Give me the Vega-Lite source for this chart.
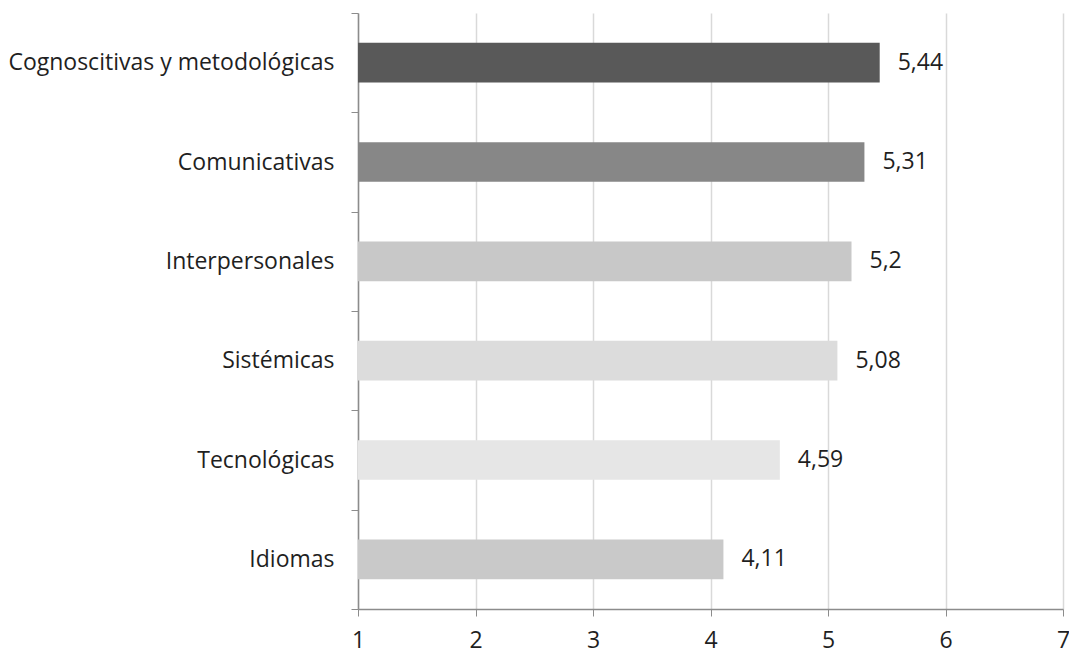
{
  "$schema": "https://vega.github.io/schema/vega-lite/v6.json",
  "width": 705,
  "height": 596,
  "autosize": {"type": "none"},
  "padding": {"left": 358, "top": 13, "right": 6, "bottom": 44},
  "background": "white",
  "config": {
    "locale": {"number": {"decimal": ",", "thousands": ".", "grouping": [3], "currency": ["", " €"]}},
    "view": {"stroke": null},
    "font": "Open Sans"
  },
  "data": {
    "values": [
      {"competencia": "Cognoscitivas y metodológicas", "media": 5.44, "tono": "c1"},
      {"competencia": "Comunicativas", "media": 5.31, "tono": "c2"},
      {"competencia": "Interpersonales", "media": 5.2, "tono": "c3"},
      {"competencia": "Sistémicas", "media": 5.08, "tono": "c4"},
      {"competencia": "Tecnológicas", "media": 4.59, "tono": "c5"},
      {"competencia": "Idiomas", "media": 4.11, "tono": "c6"}
    ]
  },
  "encoding": {
    "y": {
      "field": "competencia",
      "type": "nominal",
      "sort": null,
      "scale": {"paddingInner": 0, "paddingOuter": 0},
      "axis": {
        "title": null,
        "tickBand": "extent",
        "domainColor": "#8c8c8c",
        "domainWidth": 1.5,
        "tickColor": "#8c8c8c",
        "tickSize": 7,
        "labelFontSize": 23,
        "labelColor": "#1f1f1f",
        "labelPadding": 17,
        "labelLimit": 400,
        "grid": false
      }
    }
  },
  "layer": [
    {
      "mark": {"type": "bar", "height": {"band": 0.4}},
      "encoding": {
        "x": {
          "field": "media",
          "type": "quantitative",
          "scale": {"domain": [1, 7], "zero": false, "nice": false},
          "axis": {
            "title": null,
            "values": [1, 2, 3, 4, 5, 6, 7],
            "format": "d",
            "domainColor": "#8c8c8c",
            "domainWidth": 1.5,
            "tickColor": "#8c8c8c",
            "tickSize": 7,
            "gridColor": "#d9d9d9",
            "gridWidth": 1.5,
            "labelFontSize": 23,
            "labelColor": "#1f1f1f",
            "labelPadding": 13,
            "labelFlush": false
          }
        },
        "x2": {"datum": 1},
        "color": {
          "field": "tono",
          "type": "nominal",
          "scale": {
            "domain": ["c1", "c2", "c3", "c4", "c5", "c6"],
            "range": ["#595959", "#878787", "#c8c8c8", "#dcdcdc", "#e6e6e6", "#c9c9c9"]
          },
          "legend": null
        }
      }
    },
    {
      "mark": {"type": "text", "align": "left", "baseline": "middle", "dx": 18, "fontSize": 23, "color": "#1f1f1f"},
      "encoding": {
        "x": {"field": "media", "type": "quantitative"},
        "text": {"field": "media", "type": "quantitative", "format": ".2~f"}
      }
    }
  ]
}
